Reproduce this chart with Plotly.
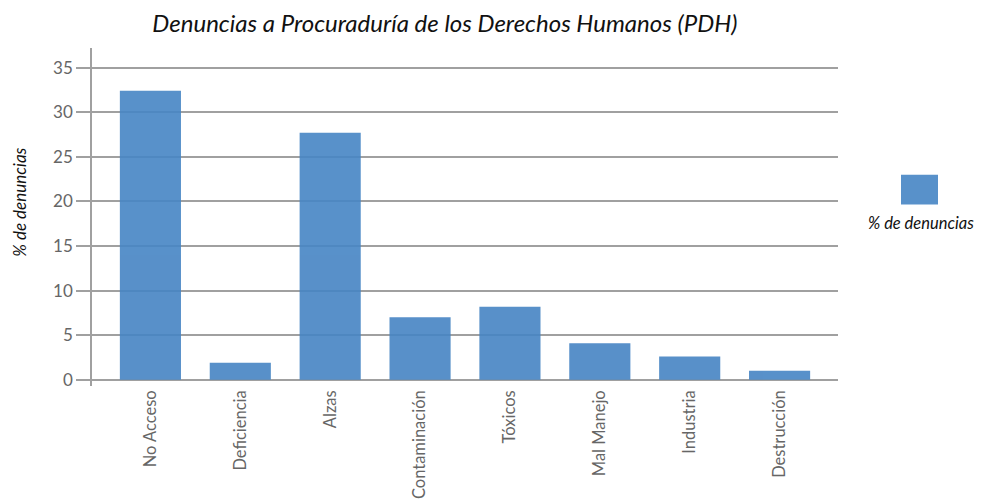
import plotly.graph_objects as go

categorias = ["No Acceso", "Deficiencia", "Alzas", "Contaminación",
              "Tóxicos", "Mal Manejo", "Industria", "Destrucción"]
porcentajes = [32.4, 1.9, 27.7, 7.0, 8.2, 4.1, 2.6, 1.0]
serie = "% de denuncias"
color_barra = "rgb(70,133,196)"

fig = go.Figure()
fig.add_trace(go.Bar(
    x=categorias, y=porcentajes, name=serie,
    marker=dict(color=color_barra, line=dict(width=0)),
    opacity=0.9,
))

# page body adds an 8px offset, margins compensate
fig.update_layout(
    width=982, height=503,
    margin=dict(l=84, r=152, t=40, b=118),
    plot_bgcolor="white", paper_bgcolor="white",
    font=dict(family="Lato, sans-serif", color="#666"),
    showlegend=False,
    bargap=0.32,
    title=dict(text="<i>Denuncias a Procuraduría de los Derechos Humanos (PDH)</i>",
               x=0.473, xref="paper", xanchor="center", y=0.968, yanchor="middle",
               font=dict(size=24, color="#111", family="Lato, sans-serif")),
)

fig.update_yaxes(
    range=[-0.7, 37.2], dtick=5, tick0=0,
    showgrid=True, gridcolor="#a0a0a0", gridwidth=1.5,
    zeroline=False,
    ticks="outside", ticklen=14, tickcolor="#a0a0a0", tickwidth=1.5,
    showline=True, linecolor="#a0a0a0", linewidth=1.5,
    tickfont=dict(size=17, color="#666"),
)
fig.update_xaxes(
    range=[-0.65, 7.65],
    tickangle=-90, ticks="", showline=False, showgrid=False,
    tickfont=dict(size=16.5, color="#666"),
)

# y-axis title placed like the original (not centred on the plot)
fig.add_annotation(text="<i>" + serie + "</i>", xref="paper", yref="paper",
                   x=(20 - 92) / 746, y=(388 - 203) / 341, textangle=-90,
                   showarrow=False, xanchor="center", yanchor="middle",
                   font=dict(size=17, color="#111"))

# legend swatch (custom: text below symbol)
fig.add_shape(type="rect", xref="paper", yref="paper",
              x0=(901 - 92) / 746, x1=(938 - 92) / 746,
              y0=(388 - 205) / 341, y1=(388 - 175) / 341,
              fillcolor=color_barra, opacity=0.9, line=dict(width=0))
fig.add_annotation(text="<i>" + serie + "</i>", xref="paper", yref="paper",
                   x=(921 - 92) / 746, y=(388 - 224) / 341,
                   showarrow=False, xanchor="center", yanchor="middle",
                   font=dict(size=16.5, color="#111"))

fig.write_html("out.html")
